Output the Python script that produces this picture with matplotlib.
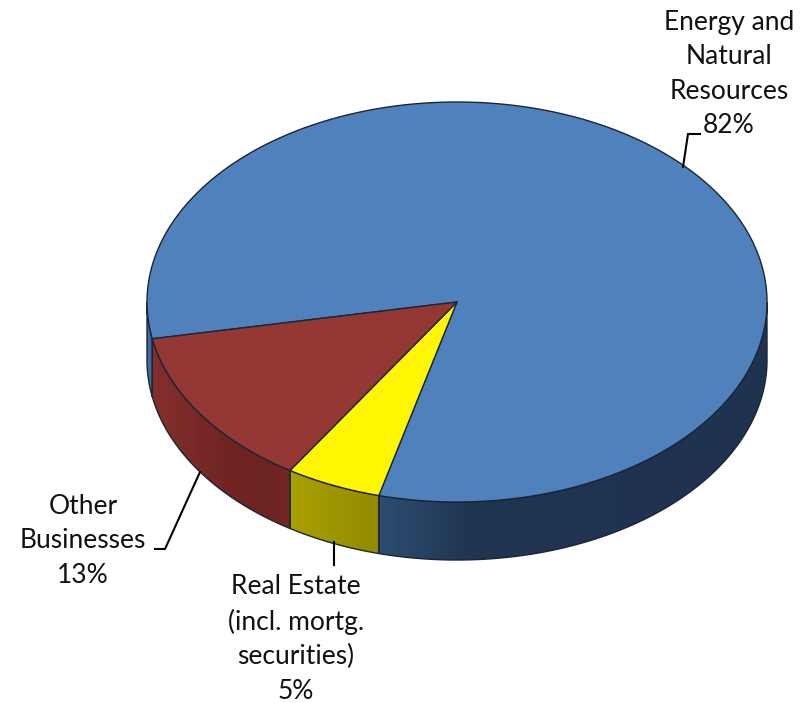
import numpy as np
import matplotlib
matplotlib.use("Agg")
import matplotlib.pyplot as plt
from matplotlib.colors import LinearSegmentedColormap
from matplotlib.patches import Polygon

labels = ["Energy and\nNatural\nResources\n82%",
          "Real Estate\n(incl. mortg.\nsecurities)\n5%",
          "Other\nBusinesses\n13%"]
shares = [82, 5, 13]
top_colors = ["#4f81bd", "#fff700", "#953735"]
wall_colors = [["#3f6ba3", "#2e4d73", "#1f3550", "#1f3350"],
               ["#a8a000", "#938b00"],
               ["#842f2d", "#702523", "#6e2422", "#762725"]]
wall_spans = [(147, 378, 470, 767), (293, 378), (150, 230, 270, 293)]
label_pos = [(729, 74), (296, 639), (83, 541)]
leaders = [([683, 688, 700], [167, 134, 134]),
           ([334, 334], [542, 565]),
           ([200, 165, 155], [472, 549, 549])]

cx, cy = 457, 302
rx, ry = 310, 200
depth = 58
start_angle = 190.6
edge = "#1b2635"


def arc(t0, t1, drop=0):
    t = np.radians(np.linspace(t0, t1, max(int(abs(t1 - t0) * 2), 2)))
    return np.column_stack([cx + rx * np.cos(t), cy - ry * np.sin(t) + drop])


def wall_gradient(ax, patch, stops, span):
    # horizontal shading across the slice wall, clipped to its outline
    x = np.linspace(cx - rx - 2, cx + rx + 2, 640)
    pos = (np.array(span, dtype=float) - span[0]) / (span[-1] - span[0])
    cmap = LinearSegmentedColormap.from_list("wall", list(zip(pos, stops)))
    shade = np.clip((x - span[0]) / (span[-1] - span[0]), 0, 1)
    img = ax.imshow(shade[None, :], cmap=cmap, vmin=0, vmax=1, aspect="auto", zorder=2,
                    extent=(x[0], x[-1], cy + ry + depth + 2, cy - 2))
    img.set_clip_path(patch)


fig = plt.figure(figsize=(8.1, 7.03), dpi=100)
ax = fig.add_axes([0, 0, 1, 1])

# clockwise from the left edge of the disc
angles = start_angle - np.cumsum([0] + shares) * 3.6

for i in range(len(shares)):
    hi, lo = angles[i], angles[i + 1]
    for shift in (0, 360):
        t0 = max(lo + shift, 180)
        t1 = min(hi + shift, 360)
        if t1 <= t0:
            continue
        outline = np.vstack([arc(t0, t1), arc(t1, t0, depth)])
        wall = Polygon(outline, closed=True, fc="none", ec="none", zorder=2)
        ax.add_patch(wall)
        wall_gradient(ax, wall, wall_colors[i], wall_spans[i])
        ax.add_patch(Polygon(outline, closed=True, fc="none", ec=edge, lw=1, zorder=3))

for i in range(len(shares)):
    pts = np.vstack([[cx, cy], arc(angles[i], angles[i + 1])])
    ax.add_patch(Polygon(pts, closed=True, fc=top_colors[i], ec=edge, lw=1,
                         joinstyle="round", zorder=4))

for (x, y) in leaders:
    ax.plot(x, y, color="black", lw=1.5, zorder=5, solid_joinstyle="miter")

for text, (x, y) in zip(labels, label_pos):
    ax.text(x, y, text, ha="center", va="center", family="Lato", fontsize=19,
            color="#111111", linespacing=1.46, zorder=6)

ax.set_xlim(0, 810)
ax.set_ylim(703, 0)
ax.axis("off")
fig.savefig("out.png", dpi=100)
